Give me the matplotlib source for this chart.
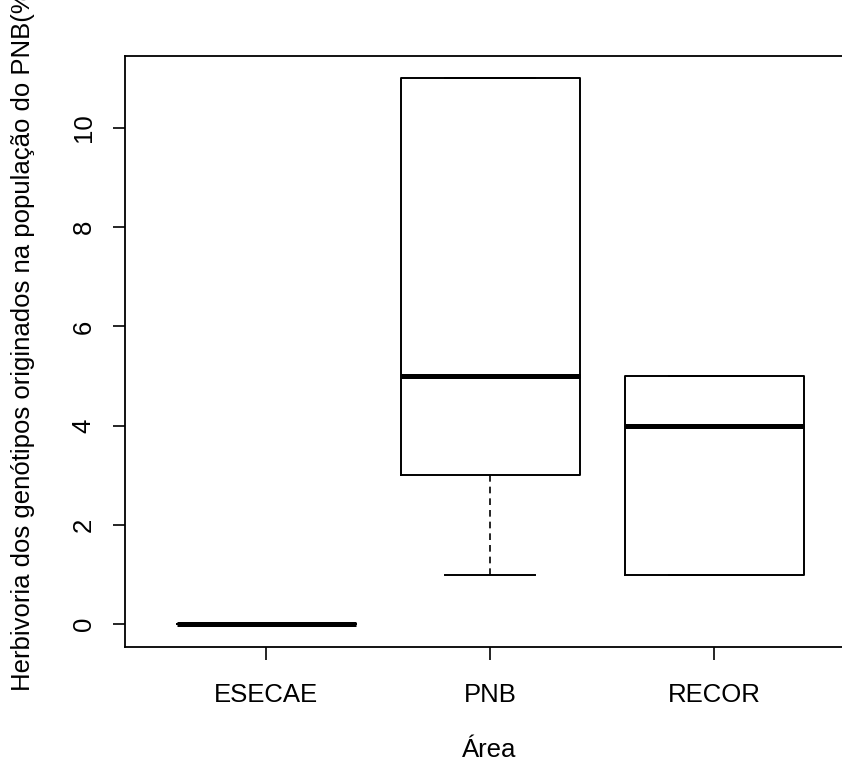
import matplotlib
matplotlib.use("Agg")
import matplotlib.pyplot as plt

plt.rcParams['font.family'] = ['Liberation Sans', 'DejaVu Sans']

# values
areas = ["ESECAE", "PNB", "RECOR"]
whis_low = [0, 1, 1]
q1 = [0, 3, 1]
median = [0, 5, 4]
q3 = [0, 11, 5]
whis_high = [0, 11, 5]

stats = []
for name, lo, a, m, b, hi in zip(areas, whis_low, q1, median, q3, whis_high):
    stats.append({"label": name, "whislo": lo, "q1": a, "med": m,
                  "q3": b, "whishi": hi, "fliers": []})

W, H = 842, 762
fig = plt.figure(figsize=(W / 100, H / 100), dpi=100)

xlim = (0.37, 3.62)
ylim = (-0.46, 11.45)
left, right, top, bottom = 125, 853, 56, 647
ax = fig.add_axes([left / W, (H - bottom) / H, (right - left) / W, (bottom - top) / H])

ax.bxp(stats, positions=[1, 2, 3], widths=0.8, showfliers=False,
       boxprops=dict(color="black", linewidth=1.4),
       medianprops=dict(color="black", linewidth=3.6, solid_capstyle="butt"),
       whiskerprops=dict(color="black", linewidth=1.2, linestyle=(0, (4, 3))),
       capprops=dict(color="black", linewidth=1.4),
       capwidths=0.4)

ax.set_xlim(*xlim)
ax.set_ylim(*ylim)
ax.set_yticks([0, 2, 4, 6, 8, 10])
ax.set_xticks([1, 2, 3])
ax.set_xticklabels(areas)

for s in ax.spines.values():
    s.set_linewidth(1.3)

fs = 18.5
ax.tick_params(axis="both", length=9, width=1.2, labelsize=fs, colors="black")
ax.tick_params(axis="x", pad=17)
ax.tick_params(axis="y", pad=12)
for lab in ax.get_yticklabels():
    lab.set_rotation(90)
    lab.set_va("center")

ax.set_xlabel("Área", fontsize=fs, labelpad=22)
ax.set_ylabel("Herbivoria dos genótipos originados na população do PNB(%)", fontsize=fs)
ax.yaxis.set_label_coords(-0.123, 0.525)

fig.savefig("out.png", dpi=100)
